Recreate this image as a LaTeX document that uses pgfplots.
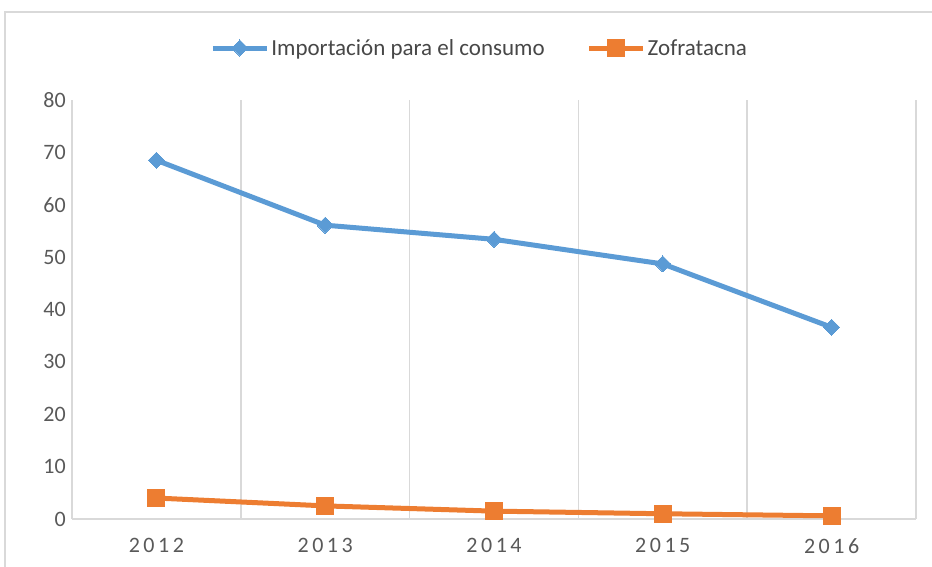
\documentclass[border=0pt]{standalone}
\usepackage{pgfplots}
\pgfplotsset{compat=1.18}
\usepackage{fontspec}
\setmainfont{Carlito}
\newfontfamily\spaced[LetterSpace=16]{Carlito}
\definecolor{cblue}{HTML}{5B9BD5}
\definecolor{corange}{HTML}{ED7D31}
\definecolor{cgrid}{HTML}{D9D9D9}
\definecolor{ctext}{HTML}{595959}
\begin{document}
\begin{tikzpicture}
\begin{axis}[
  scale only axis,
  width=844pt, height=419pt,
  xmin=-0.5, xmax=4.5, ymin=0, ymax=80,
  xtick={0,1,2,3,4},
  xticklabels={2012,2013,2014,2015,2016},
  ytick={0,10,...,80},
  /pgf/number format/assume math mode=true,
  minor xtick={-0.5,0.5,1.5,2.5,3.5,4.5},
  xminorgrids=true,
  minor grid style={draw=cgrid, line width=1.5pt},
  major tick length=0pt, minor tick length=0pt,
  axis x line*=bottom, axis y line*=left,
  x axis line style={draw=cgrid, line width=1.5pt, -},
  y axis line style={draw=none},
  tick style={draw=none},
  xticklabel style={font=\fontsize{22}{26}\selectfont\spaced, text=ctext, anchor=north, inner sep=0pt, yshift=-19pt},
  yticklabel style={font=\fontsize{22}{26}\selectfont, text=ctext, anchor=east, inner sep=0pt, xshift=-6pt},
  legend columns=2,
  legend style={draw=none, fill=none, at={(0.483,1.124)}, anchor=center,
    font=\fontsize{23}{27}\selectfont, text=ctext!80!black,
    /tikz/every even column/.append style={column sep=40pt}},
  legend image code/.code={\draw[mark repeat=2,mark phase=2,#1] plot coordinates {(0pt,0pt)(27pt,0pt)(54pt,0pt)};},
  clip=false,
]
\addplot[cblue, line width=5pt, mark=square*, mark size=5.7pt, mark options={solid, line width=0pt, rotate=45}] coordinates {(0,68.5) (1,56.1) (2,53.4) (3,48.7) (4,36.6)};
\addlegendentry{Importación para el consumo}
\addplot[corange, line width=5pt, mark=square*, mark size=8.5pt, mark options={solid, line width=0pt}] coordinates {(0,4.0) (1,2.5) (2,1.5) (3,1.0) (4,0.6)};
\addlegendentry{Zofratacna}
\end{axis}
\path[use as bounding box] (-72pt,-48pt) rectangle (860pt,519pt);
\draw[cgrid, line width=1.5pt] (-67pt,-70pt) -- (-67pt,507pt) -- (880pt,507pt);
\end{tikzpicture}
\end{document}
